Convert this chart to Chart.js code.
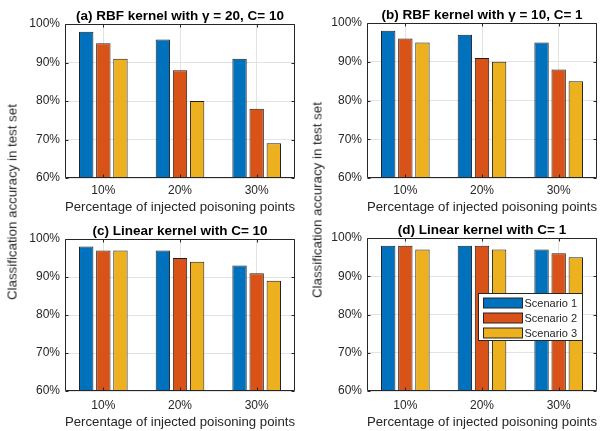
<!DOCTYPE html>
<html>
<head>
<meta charset="utf-8">
<script src="https://cdn.jsdelivr.net/npm/chart.js@4.4.0/dist/chart.umd.min.js"></script>
<style>
  body { margin: 0; background: #fff; }
  #figure { position: relative; width: 600px; height: 431px; }
  .panel { position: absolute; }
  .ylabel {
    position: absolute;
    font: 13.3px 'Liberation Sans', Arial, sans-serif;
    color: #262626;
    white-space: nowrap;
    transform: translate(-50%, -50%) rotate(-90deg);
  }
</style>
</head>
<body>
<div id="figure">
  <canvas class="panel" id="panel-a" width="300" height="215" style="left:0;top:0"></canvas>
  <canvas class="panel" id="panel-b" width="300" height="215" style="left:300px;top:0"></canvas>
  <canvas class="panel" id="panel-c" width="300" height="216" style="left:0;top:215px"></canvas>
  <canvas class="panel" id="panel-d" width="300" height="216" style="left:300px;top:215px"></canvas>
  <div class="ylabel" style="left:12px;top:202px">Classification accuracy in test set</div>
  <div class="ylabel" style="left:317px;top:200px">Classification accuracy in test set</div>
</div>
<script>
const categories = ['10%', '20%', '30%'];
const scenarios = ['Scenario 1', 'Scenario 2', 'Scenario 3'];
const colors = ['#0072BD', '#D95319', '#EDB120'];
const yTicks = [60, 70, 80, 90, 100];
const xTitle = 'Percentage of injected poisoning points';

// rows are scenarios, columns follow categories
const rbfGamma20C10 = [[98, 96, 91], [95, 88, 78], [91, 80, 69]];
const rbfGamma10C1 = [[98, 97, 95], [96, 91, 88], [95, 90, 85]];
const linearC10 = [[98, 97, 93], [97, 95, 91], [97, 94, 89]];
const linearC1 = [[98, 98, 97], [98, 98, 96], [97, 97, 95]];

const titles = [
  '(a) RBF kernel with \u03B3 = 20, C= 10',
  '(b) RBF kernel with \u03B3 = 10, C= 1',
  '(c) Linear kernel with C= 10',
  '(d) Linear kernel with C= 1'
];

Chart.defaults.font.family = "'Liberation Sans', Arial, sans-serif";
Chart.defaults.color = '#262626';

// matlab style box with inward ticks on all four sides
const axesBox = {
  id: 'axesBox',
  afterDatasetsDraw(chart) {
    let ctx = chart.ctx,
        area = chart.chartArea,
        x = chart.scales.x,
        y = chart.scales.y;
    let left = Math.round(area.left) + 0.5,
        right = Math.round(area.right) - 0.5,
        top = Math.round(area.top) + 0.5,
        bottom = Math.round(area.bottom) - 0.5;

    ctx.save();
    ctx.strokeStyle = '#262626';
    ctx.lineWidth = 1;
    ctx.beginPath();
    y.ticks.forEach(t => {
      let py = Math.round(y.getPixelForValue(t.value)) + 0.5;
      ctx.moveTo(left, py); ctx.lineTo(left + 3, py);
      ctx.moveTo(right, py); ctx.lineTo(right - 3, py);
    });
    x.ticks.forEach((t, i) => {
      let px = Math.round(x.getPixelForTick(i)) + 0.5;
      ctx.moveTo(px, bottom); ctx.lineTo(px, bottom - 3);
      ctx.moveTo(px, top); ctx.lineTo(px, top + 3);
    });
    ctx.rect(left, top, right - left, bottom - top);
    ctx.stroke();
    ctx.restore();
  }
};

const insetLegend = {
  id: 'insetLegend',
  afterDraw(chart, args, opts) {
    if (!opts.show) return;
    let ctx = chart.ctx,
        area = chart.chartArea;
    let bx = Math.round(area.right - opts.right - opts.width) + 0.5,
        by = Math.round(area.top + opts.top) + 0.5;

    ctx.save();
    ctx.fillStyle = '#fff';
    ctx.fillRect(bx, by, opts.width, opts.height);
    ctx.strokeStyle = '#262626';
    ctx.lineWidth = 1;
    ctx.strokeRect(bx, by, opts.width, opts.height);
    ctx.font = "11px 'Liberation Sans', Arial, sans-serif";
    ctx.textBaseline = 'middle';
    chart.data.datasets.forEach((ds, i) => {
      let cy = Math.round(by + 9 + i * 15);
      ctx.fillStyle = ds.backgroundColor;
      ctx.fillRect(bx + 5, cy - 5, 39, 10);
      ctx.strokeStyle = '#262626';
      ctx.strokeRect(bx + 5, cy - 5, 39, 10);
      ctx.fillStyle = '#262626';
      ctx.fillText(ds.label, bx + 46, cy + 0.5);
    });
    ctx.restore();
  }
};

const panels = [
  { id: 'panel-a', title: titles[0], values: rbfGamma20C10, yWidth: 65, padRight: 5, titleTop: 7.8, xHeight: 37, tickPad: 5, xTitlePad: 0 },
  { id: 'panel-b', title: titles[1], values: rbfGamma10C1, yWidth: 67, padRight: 3, titleTop: 6.8, xHeight: 37, tickPad: 5, xTitlePad: 0 },
  { id: 'panel-c', title: titles[2], values: linearC10, yWidth: 65, padRight: 5, titleTop: 7.8, xHeight: 40, tickPad: 7, xTitlePad: 1 },
  { id: 'panel-d', title: titles[3], values: linearC1, yWidth: 67, padRight: 3, titleTop: 6.8, xHeight: 40, tickPad: 7, xTitlePad: 1, legend: true }
];

function buildPanel(p) {
  let datasets = p.values.map((vals, i) => ({
    label: scenarios[i],
    data: vals,
    backgroundColor: colors[i],
    borderColor: '#1f1f1f',
    borderWidth: 1,
    borderSkipped: false,
    barPercentage: 0.84,
    categoryPercentage: 0.67
  }));

  new Chart(document.getElementById(p.id), {
    type: 'bar',
    data: { labels: categories, datasets: datasets },
    plugins: [axesBox, insetLegend],
    options: {
      responsive: false,
      animation: false,
      layout: { padding: { left: 0, right: p.padRight, top: 0, bottom: 0 } },
      plugins: {
        legend: { display: false },
        tooltip: { enabled: false },
        title: {
          display: true,
          text: p.title,
          fullSize: false,
          color: '#000',
          font: { size: 13.5, weight: 'bold' },
          padding: { top: p.titleTop, bottom: 0 }
        },
        insetLegend: { show: !!p.legend, right: 15, width: 104, top: 55, height: 47 }
      },
      scales: {
        x: {
          afterFit: s => { s.height = p.xHeight; },
          grid: { offset: false, color: '#e3e3e3', drawTicks: false },
          border: { display: false },
          ticks: { font: { size: 12 }, padding: p.tickPad },
          title: { display: true, text: xTitle, font: { size: 13.3 }, padding: { top: 0, bottom: p.xTitlePad } }
        },
        y: {
          min: yTicks[0],
          max: yTicks[yTicks.length - 1],
          afterFit: s => { s.width = p.yWidth; },
          afterBuildTicks: s => { s.ticks = yTicks.map(v => ({ value: v })); },
          grid: { color: '#e3e3e3', drawTicks: false },
          border: { display: false },
          ticks: { font: { size: 12 }, padding: 5, callback: v => v + '%' }
        }
      }
    }
  });
}

panels.forEach(buildPanel);
</script>
</body>
</html>
